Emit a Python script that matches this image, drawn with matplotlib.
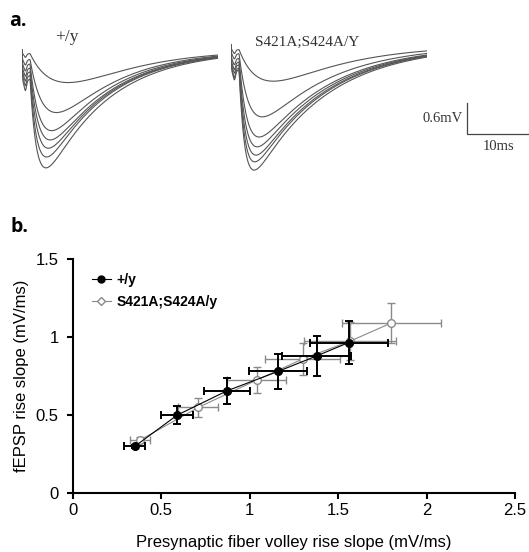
import numpy as np
import matplotlib
matplotlib.use("Agg")
import matplotlib.pyplot as plt
from matplotlib.lines import Line2D

# ---------------- data ----------------
# panel a: fEPSP traces (peak amplitude mV, peak time ms, early offset mV)
wt_peak_amp = [0.63, 1.21, 1.56, 1.74, 1.90, 2.07, 2.28]
wt_peak_time = [7.7, 5.8, 5.0, 4.8, 4.5, 4.2, 4.1]
wt_offset = [0.08, 0.21, 0.31, 0.40, 0.48, 0.56, 0.64]
wt_decay = 10.0

mut_peak_amp = [0.70, 1.39, 1.78, 1.97, 2.13, 2.26, 2.42]
mut_peak_time = [7.1, 5.2, 4.7, 4.4, 4.2, 4.0, 3.9]
mut_offset = [0.10, 0.19, 0.29, 0.37, 0.43, 0.50, 0.54]
mut_decay = 11.5

trace_duration = 31.6  # ms
scale_mv = 0.6
scale_ms = 10

# panel b: input-output relation
wt_label = "+/y"
wt_x = [0.35, 0.59, 0.87, 1.16, 1.38, 1.56]
wt_y = [0.30, 0.50, 0.655, 0.78, 0.88, 0.965]
wt_xerr = [0.06, 0.09, 0.13, 0.165, 0.195, 0.22]
wt_yerr = [0.012, 0.056, 0.086, 0.11, 0.13, 0.14]

mut_label = "S421A;S424A/y"
mut_x = [0.38, 0.71, 1.04, 1.30, 1.57, 1.80]
mut_y = [0.34, 0.55, 0.725, 0.86, 0.975, 1.09]
mut_xerr = [0.057, 0.113, 0.167, 0.213, 0.26, 0.28]
mut_yerr = [0.02, 0.06, 0.083, 0.10, 0.12, 0.13]

x_ticks = [0, 0.5, 1, 1.5, 2, 2.5]
x_ticklabels = ["0", "0.5", "1", "1.5", "2", "2.5"]
y_ticks = [0, 0.5, 1, 1.5]
y_ticklabels = ["0", "0.5", "1", "1.5"]

# ---------------- figure ----------------
W, H = 529, 552
fig = plt.figure(figsize=(W / 100, H / 100), dpi=100)


def px_axes(x0, y0, x1, y1):
    return fig.add_axes([x0 / W, 1 - y1 / H, (x1 - x0) / W, (y1 - y0) / H])


def px_text(x, y, s, **kw):
    return fig.text(x / W, 1 - y / H, s, **kw)


def solve_rise(tp, td):
    lo, hi = 0.01, td - 0.01
    for _ in range(60):
        mid = 0.5 * (lo + hi)
        val = mid * td / (td - mid) * np.log(td / mid)
        if val < tp:
            lo = mid
        else:
            hi = mid
    return 0.5 * (lo + hi)


def make_trace(t, amp, tpk, off, td, onset=1.3):
    art = off * (1 - np.exp(-t / 0.06)) * np.exp(-t / td)
    dip = (0.2 * off + 0.05) * np.exp(-((t - 0.55) / 0.25) ** 2)
    tr = solve_rise(max(tpk - onset, 0.5), td)
    s = np.clip(t - onset, 0, None)
    g = np.exp(-s / td) - np.exp(-s / tr)
    g = g / g.max()
    lo, hi = 0.0, amp * 2
    for _ in range(50):
        A = 0.5 * (lo + hi)
        if (art + dip + A * g).max() < amp:
            lo = A
        else:
            hi = A
    return -(art + dip + A * g)


t = np.linspace(0, trace_duration, 1200)
px_per_ms = 6.2
px_per_mv = 51.7


def trace_axes(x0, y_zero):
    ax = px_axes(x0, 30, x0 + trace_duration * px_per_ms, 190)
    ax.set_xlim(0, trace_duration)
    ax.set_ylim(-(190 - y_zero) / px_per_mv, (y_zero - 30) / px_per_mv)
    ax.axis("off")
    return ax


axL = trace_axes(22, 50)
for a, tp, o in zip(wt_peak_amp, wt_peak_time, wt_offset):
    axL.plot(t, make_trace(t, a, tp, o, wt_decay), color="#555555", lw=0.8)

axR = trace_axes(231, 45)
for a, tp, o in zip(mut_peak_amp, mut_peak_time, mut_offset):
    axR.plot(t, make_trace(t, a, tp, o, mut_decay), color="#555555", lw=0.8)

# scale bar (in right-trace data units)
sb_t0 = (467 - 231) / px_per_ms
sb_v0 = -(134 - 45) / px_per_mv
axR.plot([sb_t0, sb_t0, sb_t0 + scale_ms], [sb_v0 + scale_mv, sb_v0, sb_v0],
         color="#444444", lw=0.9, clip_on=False, solid_joinstyle="miter")

serif = "Liberation Serif"
px_text(55, 37, "+/y", family=serif, fontsize=12.5, va="center", ha="left", color="#333333")
px_text(255, 42, "S421A;S424A/Y", family=serif, fontsize=11, va="center", ha="left", color="#333333")
px_text(463, 119, "0.6mV", family=serif, fontsize=10.5, va="center", ha="right", color="#333333")
px_text(499, 147, "10ms", family=serif, fontsize=10.5, va="center", ha="center", color="#333333")

px_text(9, 21, "a.", family="Open Sans", fontweight="bold", fontsize=14, va="center", ha="left")
px_text(11, 227, "b.", family="Open Sans", fontweight="bold", fontsize=14, va="center", ha="left")

# ---------------- panel b ----------------
ax = px_axes(72.7, 259, 515, 493.3)
gray = "#8a8a8a"
ax.errorbar(mut_x, mut_y, xerr=mut_xerr, yerr=mut_yerr, fmt="-", color=gray,
            lw=0.8, elinewidth=1.0, capsize=3, capthick=1.0, zorder=2)
ax.plot(mut_x, mut_y, "o", ms=5.5, mfc="white", mec=gray, mew=1.0, zorder=3)
ax.errorbar(wt_x, wt_y, xerr=wt_xerr, yerr=wt_yerr, fmt="-", color="black",
            lw=0.8, elinewidth=1.4, capsize=3, capthick=1.4, zorder=4)
ax.plot(wt_x, wt_y, "o", ms=5.5, color="black", zorder=5)

ax.set_xlim(0, 2.5)
ax.set_ylim(0, 1.5)
for s in ["top", "right"]:
    ax.spines[s].set_visible(False)
for s in ["left", "bottom"]:
    ax.spines[s].set_linewidth(1.5)
ax.set_xticks(x_ticks)
ax.set_xticklabels(x_ticklabels)
ax.set_yticks(y_ticks)
ax.set_yticklabels(y_ticklabels)
ax.tick_params(direction="out", length=4, width=1.5, labelsize=12)
ax.tick_params(axis="x", pad=3)
ax.tick_params(axis="y", pad=6)
for lab in ax.get_xticklabels() + ax.get_yticklabels():
    lab.set_family("Liberation Sans")
ax.set_xlabel("Presynaptic fiber volley rise slope (mV/ms)", family="Liberation Sans",
              fontsize=12, labelpad=12)
ax.set_ylabel("fEPSP rise slope (mV/ms)", family="Liberation Sans", fontsize=12, labelpad=5)

handles = [
    Line2D([], [], color="black", lw=0.8, marker="o", ms=5, mfc="black"),
    Line2D([], [], color=gray, lw=0.8, marker="D", ms=4.5, mfc="white", mec=gray),
]
leg = ax.legend(handles, [wt_label, mut_label], loc="upper left",
                bbox_to_anchor=(0.03, 0.965), frameon=False, handlelength=1.4,
                handletextpad=0.4, labelspacing=0.6, borderaxespad=0,
                prop={"family": "Liberation Sans", "weight": "bold", "size": 10})

fig.savefig("out.png", dpi=100)
